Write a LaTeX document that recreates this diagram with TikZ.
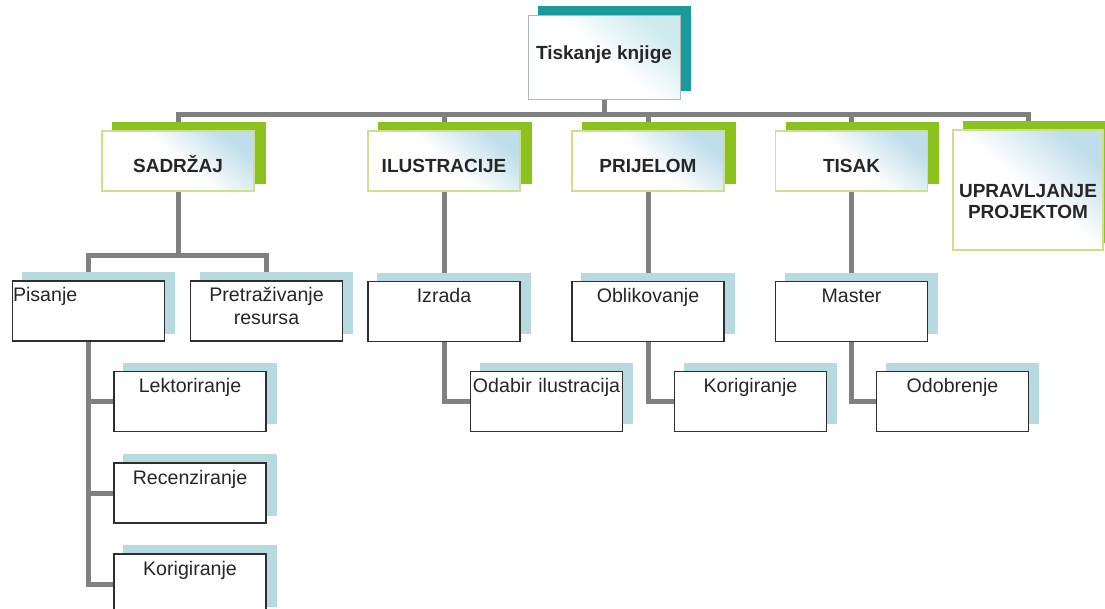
\documentclass[tikz,border=0pt]{standalone}
\usepackage{fontspec}
\setmainfont{Liberation Sans}
\usetikzlibrary{calc}
\definecolor{TitleTeal}{HTML}{1B9A9B}
\definecolor{TitleRim}{HTML}{A7BDB8}
\definecolor{TitleTint}{HTML}{CDEAEE}
\definecolor{PhaseGreen}{HTML}{8DC21E}
\definecolor{PhaseRim}{HTML}{CBE18E}
\definecolor{PhaseTint}{HTML}{BFDDEA}
\definecolor{TaskShadow}{HTML}{B6DAE0}
\definecolor{TaskRim}{HTML}{2E2E2E}
\definecolor{LinkGray}{HTML}{808080}
\definecolor{LabelInk}{HTML}{262626}
\pgfdeclarelayer{links}
\pgfdeclarelayer{background}
\pgfsetlayers{links,background,main}

\begin{document}
\begin{tikzpicture}[
  x=1pt,
  y=-1pt,
  every node/.style={text=LabelInk,inner sep=0pt},
  titlebox/.style={draw=TitleRim,line width=1pt,
    top color=TitleTint,bottom color=white,middle color=white,
    shading angle=-40,minimum width=152pt,minimum height=84pt,
    font=\fontsize{19}{21}\selectfont\bfseries,
    text height=14pt,text depth=10pt},
  phasebox/.style={draw=PhaseRim,line width=1.5pt,
    top color=PhaseTint,bottom color=white,middle color=white,
    shading angle=-40,minimum width=152pt,minimum height=60pt,
    text width=150pt,align=center,
    font=\fontsize{19}{21}\selectfont\bfseries,
    text height=24pt,text depth=0pt},
  taskbox/.style={draw=TaskRim,line width=1.4pt,fill=white,
    minimum width=152pt,minimum height=60pt,
    text width=151pt,align=center,
    font=\fontsize{19.6}{23}\selectfont,
    text height=15pt,text depth=33pt},
  link/.style={LinkGray,line width=5pt}
]
  \useasboundingbox (0,0) rectangle (1105,609);

  \node[titlebox] (root) at (604,58) {Tiskanje knjige};

  \node[phasebox] (sadrzaj) at (178,161) {SADRŽAJ};
  \node[phasebox] (ilustracije) at (444,161) {ILUSTRACIJE};
  \node[phasebox] (prijelom) at (648,161) {PRIJELOM};
  \node[phasebox] (tisak) at (851.5,161) {TISAK};
  \node[phasebox,minimum width=150pt,minimum height=120pt,
    text height=20pt,text depth=4pt] (upravljanje) at (1028,190)
    {UPRAVLJANJE\\PROJEKTOM};

  \node[taskbox,align=left] (pisanje) at (88.5,311) {Pisanje};
  \node[taskbox] (pretrazivanje) at (266.5,311) {Pretraživanje\\resursa};
  \node[taskbox] (izrada) at (444,311.5) {Izrada};
  \node[taskbox] (oblikovanje) at (648,311.5) {Oblikovanje};
  \node[taskbox] (master) at (851.5,311.5) {Master};

  \node[taskbox] (lektoriranje) at (190,401.5) {Lektoriranje};
  \node[taskbox] (recenziranje) at (190,493) {Recenziranje};
  \node[taskbox] (korektura) at (190,584) {Korigiranje};
  \node[taskbox] (odabir) at (546.5,401.5) {Odabir ilustracija};
  \node[taskbox] (korigiranje) at (750.5,401.5) {Korigiranje};
  \node[taskbox] (odobrenje) at (952.5,401.5) {Odobrenje};

  \begin{pgfonlayer}{background}
    \fill[TitleTeal] ($(root.south west)+(10,-9)$)
      rectangle ($(root.north east)+(10,-9)$);
    \foreach \n in {sadrzaj,ilustracije,prijelom,tisak,upravljanje}
      \fill[PhaseGreen] ($(\n.south west)+(11,-8)$)
        rectangle ($(\n.north east)+(11,-8)$);
    \foreach \n in {pisanje,pretrazivanje,izrada,oblikovanje,master,
      lektoriranje,recenziranje,korektura,odabir,korigiranje,odobrenje}
      \fill[TaskShadow] ($(\n.south west)+(10,-8)$)
        rectangle ($(\n.north east)+(10,-8)$);
  \end{pgfonlayer}

  \begin{pgfonlayer}{links}
    \fill[white] (0,0) rectangle (1105,609);
    \foreach \n in {sadrzaj,ilustracije,prijelom,tisak,upravljanje}
      \draw[link] (root.south) -- ++(0,14) -| (\n.north);
    \foreach \n in {pisanje,pretrazivanje}
      \draw[link] (sadrzaj.south) -- ++(0,64) -| (\n.north);
    \foreach \n in {lektoriranje,recenziranje,korektura}
      \draw[link] (pisanje.south) |- (\n.west);
    \draw[link] (ilustracije.south) -- (izrada.north);
    \draw[link] (prijelom.south) -- (oblikovanje.north);
    \draw[link] (tisak.south) -- (master.north);
    \draw[link] (izrada.south) |- (odabir.west);
    \draw[link] (oblikovanje.south) |- (korigiranje.west);
    \draw[link] (master.south) |- (odobrenje.west);
  \end{pgfonlayer}
\end{tikzpicture}
\end{document}
